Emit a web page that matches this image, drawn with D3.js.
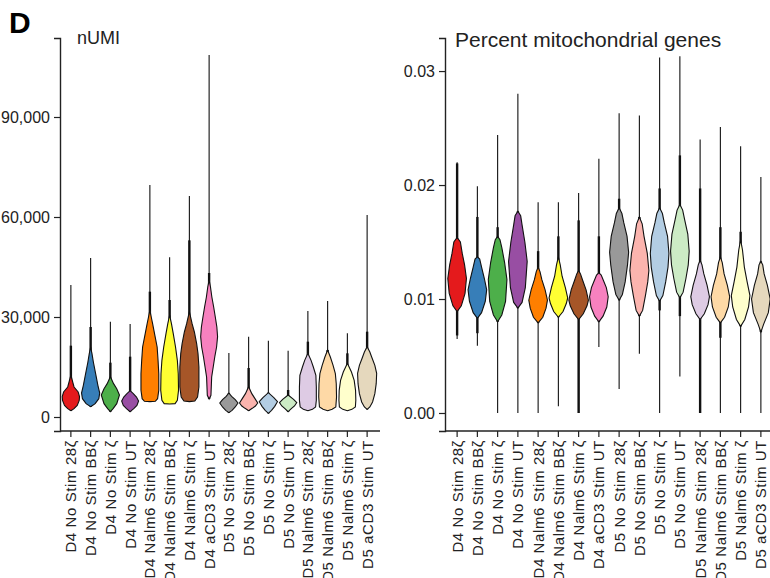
<!DOCTYPE html>
<html>
<head>
<meta charset="utf-8">
<script src="https://cdn.jsdelivr.net/npm/d3@7"></script>
<style>
  html, body { margin: 0; padding: 0; background: #fff; }
  svg { display: block; font-family: "Liberation Sans", Arial, Helvetica, sans-serif; }
</style>
</head>
<body>
<svg id="chart" width="770" height="578"></svg>
<script>
// ---------- DATA ----------
const categories = [
  "D4 No Stim 28ζ", "D4 No Stim BBζ", "D4 No Stim ζ", "D4 No Stim UT",
  "D4 Nalm6 Stim 28ζ", "D4 Nalm6 Stim BBζ", "D4 Nalm6 Stim ζ", "D4 aCD3 Stim UT",
  "D5 No Stim 28ζ", "D5 No Stim BBζ", "D5 No Stim ζ", "D5 No Stim UT",
  "D5 Nalm6 Stim 28ζ", "D5 Nalm6 Stim BBζ", "D5 Nalm6 Stim ζ", "D5 aCD3 Stim UT"
];
const colors = [
  "#E41A1C", "#377EB8", "#4DAF4A", "#984EA3", "#FF7F00", "#FFFF33", "#A65628", "#F781BF",
  "#999999", "#FBB4AE", "#B3CDE3", "#CCEBC5", "#DECBE4", "#FED9A6", "#FFFFCC", "#E5D8BD"
];

// nUMI panel
const umiTicks = [0, 30000, 60000, 90000];
const umiLineLo  = [1900, 3100, 1600, 1600, 4600, 3900, 4600, 5400, 1300, 1900, 1100, 1600, 1900, 1900, 1900, 2300];
const umiLineHi  = [39600, 47700, 28600, 27900, 69600, 47900, 66300, 108600, 19200, 24100, 22900, 19900, 31800, 34800, 25100, 60600];
const umiThickLo = [1900, 3100, 1600, 1600, 4600, 3900, 4600, 5400, 1300, 1900, 1100, 1600, 1900, 1900, 1900, 2300];
const umiThickHi = [21400, 27000, 16300, 18100, 37600, 35100, 53000, 43200, 7200, 14700, 7300, 8100, 22600, 20100, 19100, 25600];
// violin outlines: [value, relative half-width]
const umiProfiles = [
  [[1900,0],[2500,0.35],[3500,0.7],[5000,0.92],[6100,0.95],[7500,0.8],[9000,0.35],[10500,0.2],[12600,0]],
  [[3100,0],[4000,0.5],[5500,0.9],[7200,1],[9500,0.8],[13000,0.55],[16500,0.3],[19000,0.15],[21000,0]],
  [[1600,0],[2500,0.3],[4000,0.7],[6600,1],[8500,0.7],[10000,0.35],[12100,0]],
  [[1600,0],[2500,0.4],[3500,0.75],[4800,0.93],[6000,0.7],[7000,0.35],[7900,0]],
  [[4600,0],[4700,0.6],[5500,0.85],[8000,0.98],[13000,0.98],[17000,0.9],[21000,0.8],[24500,0.55],[28000,0.3],[30000,0.15],[32100,0]],
  [[3900,0],[4000,0.6],[5000,0.85],[8000,0.98],[13000,0.95],[17000,0.85],[21000,0.65],[25000,0.4],[28000,0.2],[30600,0]],
  [[4600,0],[4800,0.6],[6000,0.9],[9000,1.05],[15000,1.05],[19000,0.95],[22000,0.8],[25500,0.55],[28000,0.3],[31600,0]],
  [[5400,0],[6500,0.2],[12000,0.28],[15000,0.45],[18000,0.62],[21000,0.82],[24100,0.93],[27000,0.85],[30000,0.68],[33000,0.5],[36000,0.3],[39000,0.15],[41100,0]],
  [[1300,0],[2000,0.35],[3000,0.7],[4200,1],[5200,0.7],[6200,0.3],[7200,0]],
  [[1900,0],[2600,0.4],[3300,0.75],[4200,1],[5500,0.7],[7000,0.35],[9100,0]],
  [[1100,0],[2000,0.35],[3200,0.7],[4600,1],[5800,0.6],[7300,0]],
  [[1600,0],[2500,0.35],[3300,0.7],[4300,0.95],[5300,0.6],[6600,0]],
  [[1900,0],[2300,0.5],[3000,0.85],[5000,0.93],[9000,0.93],[12500,0.88],[15000,0.6],[17000,0.35],[19100,0]],
  [[1900,0],[2300,0.5],[3000,0.9],[6000,0.98],[10000,0.95],[13000,0.85],[15500,0.6],[18000,0.3],[20100,0]],
  [[1900,0],[2300,0.5],[3000,0.88],[5000,0.93],[8000,0.9],[11000,0.75],[13500,0.45],[16100,0]],
  [[2300,0],[3000,0.3],[4500,0.6],[7000,0.85],[10000,1.0],[13100,1.05],[15500,0.85],[18000,0.5],[19500,0.3],[21100,0]]
];

// Percent mitochondrial genes panel
const mitoTicks = [0, 0.01, 0.02, 0.03];
const mitoLineLo  = [0.0065, 0.0059, 0.0, 0.0, 0.0, 0.0006, 0.0, 0.0058, 0.0021, 0.0052, 0.0, 0.0032, 0.0001, 0.0, 0.0, 0.0];
const mitoLineHi  = [0.0220, 0.0199, 0.0244, 0.0280, 0.0185, 0.0185, 0.0193, 0.0223, 0.0263, 0.0261, 0.0312, 0.0313, 0.0240, 0.0251, 0.0234, 0.0207];
const mitoThickLo = [0.0068, 0.0070, 0.0080, 0.0092, 0.0079, 0.0084, 0.0000, 0.0080, 0.0099, 0.0085, 0.0090, 0.0085, 0.0000, 0.0066, 0.0076, 0.0071];
const mitoThickHi = [0.0219, 0.0172, 0.0163, 0.0177, 0.0142, 0.0155, 0.0169, 0.0155, 0.0188, 0.0172, 0.0197, 0.0226, 0.0197, 0.0163, 0.0159, 0.0133];
const mitoProfiles = [
  [[0.0089,0],[0.0094,0.45],[0.0105,0.85],[0.0118,1],[0.0130,0.8],[0.0140,0.55],[0.0150,0.35],[0.0154,0]],
  [[0.0083,0],[0.0088,0.45],[0.0098,0.85],[0.0108,1],[0.0118,0.75],[0.0128,0.45],[0.0135,0.25],[0.0137,0]],
  [[0.0080,0],[0.0086,0.45],[0.0098,0.85],[0.0117,1],[0.0132,0.75],[0.0145,0.45],[0.0152,0.25],[0.0155,0]],
  [[0.0092,0],[0.0097,0.45],[0.0110,0.8],[0.0133,1],[0.0150,0.75],[0.0165,0.45],[0.0173,0.3],[0.0177,0]],
  [[0.0079,0],[0.0084,0.5],[0.0092,0.85],[0.0099,1],[0.0108,0.75],[0.0117,0.4],[0.0124,0.2],[0.0128,0]],
  [[0.0084,0],[0.0089,0.5],[0.0096,0.85],[0.0101,1],[0.0110,0.75],[0.0120,0.4],[0.0130,0.2],[0.0137,0]],
  [[0.0082,0],[0.0087,0.5],[0.0094,0.9],[0.0099,1.05],[0.0108,0.8],[0.0116,0.45],[0.0122,0.2],[0.0125,0]],
  [[0.0080,0],[0.0085,0.45],[0.0093,0.85],[0.0102,1],[0.0110,0.8],[0.0116,0.5],[0.0121,0.25],[0.0123,0]],
  [[0.0099,0],[0.0104,0.35],[0.0115,0.65],[0.0130,0.9],[0.0141,1.02],[0.0155,0.85],[0.0167,0.5],[0.0175,0.3],[0.0180,0]],
  [[0.0085,0],[0.0090,0.35],[0.0103,0.65],[0.0115,0.9],[0.0125,1.02],[0.0140,0.85],[0.0155,0.5],[0.0166,0.3],[0.0172,0]],
  [[0.0098,0],[0.0103,0.35],[0.0115,0.65],[0.0128,0.9],[0.0140,1.0],[0.0155,0.85],[0.0167,0.5],[0.0175,0.3],[0.0180,0]],
  [[0.0101,0],[0.0106,0.35],[0.0118,0.65],[0.0130,0.9],[0.0142,1.0],[0.0157,0.85],[0.0170,0.5],[0.0178,0.3],[0.0183,0]],
  [[0.0082,0],[0.0087,0.45],[0.0095,0.85],[0.0102,1.0],[0.0112,0.75],[0.0122,0.4],[0.0130,0.2],[0.0134,0]],
  [[0.0079,0],[0.0084,0.45],[0.0093,0.85],[0.0102,1.0],[0.0112,0.75],[0.0122,0.4],[0.0132,0.2],[0.0137,0]],
  [[0.0076,0],[0.0082,0.45],[0.0093,0.85],[0.0103,1.0],[0.0115,0.7],[0.0128,0.4],[0.0143,0.2],[0.0152,0]],
  [[0.0071,0],[0.0078,0.3],[0.0088,0.8],[0.0100,1.0],[0.0112,0.7],[0.0122,0.35],[0.0130,0.2],[0.0133,0]]
];

// ---------- DRAWING ----------
const svg = d3.select("#chart");
const ink = "#222";

svg.append("text").attr("x", 9).attr("y", 33)
  .attr("font-size", 30).attr("font-weight", "bold").attr("fill", "#000").text("D");

function panel(opts) {
  const g = svg.append("g");
  const x = d3.scaleBand().domain(categories).range(opts.xRange).padding(0);
  const y = d3.scaleLinear().domain(opts.yDomain).range([431, 38]);
  const hw = x.bandwidth() * 0.46;

  // point columns (thin then thick)
  categories.forEach((c, i) => {
    const cx = x(c) + x.bandwidth() / 2;
    g.append("line").attr("x1", cx).attr("x2", cx)
      .attr("y1", y(opts.lineLo[i])).attr("y2", y(opts.lineHi[i]))
      .attr("stroke", "#111").attr("stroke-width", 1.1);
    g.append("line").attr("x1", cx).attr("x2", cx)
      .attr("y1", y(opts.thickLo[i])).attr("y2", y(opts.thickHi[i]))
      .attr("stroke", "#111").attr("stroke-width", 2.4);
  });

  // violins
  categories.forEach((c, i) => {
    const cx = x(c) + x.bandwidth() / 2;
    const area = d3.area()
      .y(d => y(d[0]))
      .x0(d => cx - d[1] * hw)
      .x1(d => cx + d[1] * hw)
      .curve(d3.curveLinear);
    g.append("path").datum(opts.profiles[i])
      .attr("d", area)
      .attr("fill", colors[i])
      .attr("stroke", "#111").attr("stroke-width", 1.1);
  });

  // y axis
  const ya = g.append("g").attr("transform", `translate(${opts.yAxisX},0)`)
    .call(d3.axisLeft(y).tickValues(opts.ticks).tickFormat(opts.fmt).tickSizeOuter(0).tickSize(6).tickPadding(4));
  ya.select(".domain").attr("stroke", ink).attr("stroke-width", 1.4);
  ya.selectAll(".tick line").attr("stroke", ink).attr("stroke-width", 1.2);
  ya.selectAll(".tick text").attr("font-size", 16).attr("fill", ink)
    .attr("font-family", "Liberation Sans, Arial, sans-serif");

  // x axis
  const xa = g.append("g").attr("transform", "translate(0,431)")
    .call(d3.axisBottom(x).tickSizeOuter(0).tickSize(6).tickPadding(3));
  xa.select(".domain").attr("stroke", ink).attr("stroke-width", 1.4)
    .attr("d", `M${opts.yAxisX},0H${opts.xRange[1] + 3}`);
  xa.selectAll(".tick line").attr("stroke", ink).attr("stroke-width", 1.2);
  xa.selectAll(".tick text")
    .attr("font-size", 15).attr("fill", ink)
    .attr("letter-spacing", "0.6px")
    .attr("font-family", "Liberation Sans, Arial, sans-serif")
    .attr("text-anchor", "end")
    .attr("transform", "rotate(-90)")
    .attr("x", -9).attr("y", 0).attr("dy", "0.36em");

  g.append("text").attr("x", opts.titleX).attr("y", opts.titleY)
    .attr("font-size", opts.titleSize).attr("fill", ink).text(opts.title);
}

panel({
  xRange: [61, 377], yAxisX: 60, yDomain: [-4200, 113700],
  ticks: umiTicks, fmt: d3.format(","),
  lineLo: umiLineLo, lineHi: umiLineHi, thickLo: umiThickLo, thickHi: umiThickHi,
  profiles: umiProfiles, title: "nUMI", titleX: 77, titleY: 44, titleSize: 18
});

panel({
  xRange: [447, 771], yAxisX: 445, yDomain: [-0.00158, 0.0329],
  ticks: mitoTicks, fmt: d3.format(".2f"),
  lineLo: mitoLineLo, lineHi: mitoLineHi, thickLo: mitoThickLo, thickHi: mitoThickHi,
  profiles: mitoProfiles, title: "Percent mitochondrial genes", titleX: 455, titleY: 47, titleSize: 21
});
</script>
</body>
</html>
